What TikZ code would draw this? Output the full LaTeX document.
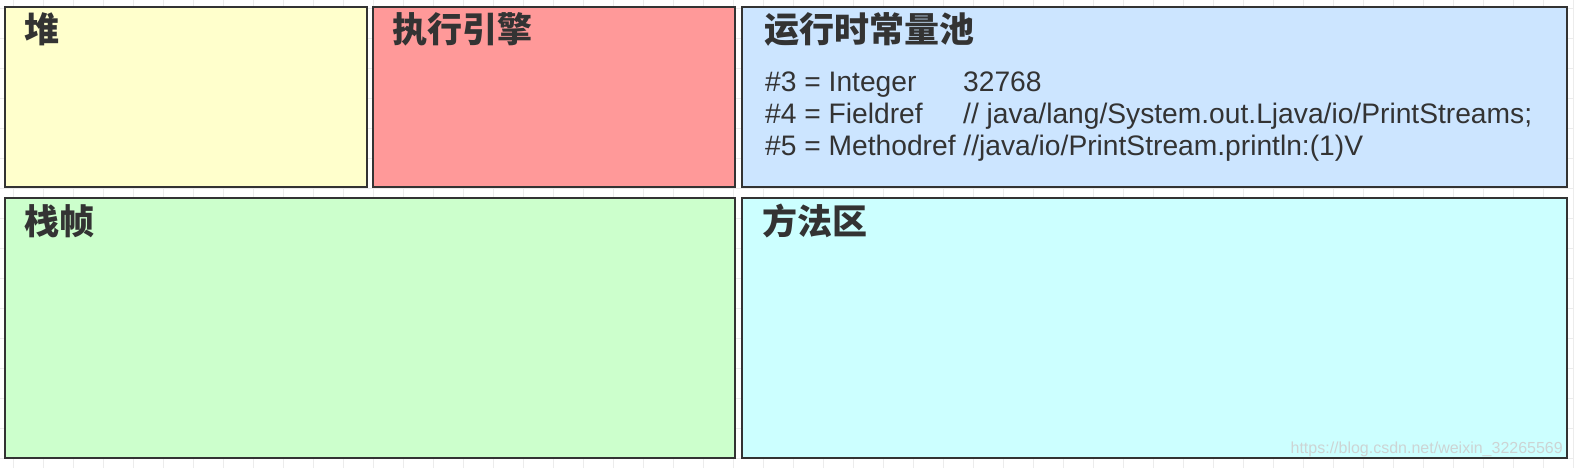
\documentclass[tikz,border=0pt]{standalone}
\usepackage{fontspec}
\setmainfont{Liberation Sans}
\newfontfamily\cjkfont{Noto Sans CJK SC}
\usetikzlibrary{positioning}
\definecolor{heapyellow}{RGB}{255,255,204}
\definecolor{enginered}{RGB}{255,153,153}
\definecolor{poolblue}{RGB}{204,229,255}
\definecolor{framegreen}{RGB}{204,255,204}
\definecolor{methodcyan}{RGB}{204,255,255}
\definecolor{inkgray}{RGB}{51,51,51}
\definecolor{gridgray}{RGB}{236,236,236}
\definecolor{markgray}{RGB}{205,212,212}

\begin{document}
\begin{tikzpicture}[
      x=1pt, y=-1pt,
      area/.style={draw=inkgray, line width=2pt, inner sep=0pt, outer sep=0pt},
      areatitle/.style={anchor=base west, inner sep=0pt, text=inkgray, font=\cjkfont\bfseries\fontsize{35}{40}\selectfont},
      pooltext/.style={anchor=base west, inner sep=0pt, align=left, text=inkgray, font=\fontsize{28.2}{32}\selectfont},
      gridline/.style={draw=gridgray, line width=1.5pt}
    ]
      \useasboundingbox (0,0) rectangle (1574,468);
      \fill[white] (0,0) rectangle (1574,468);

      % background grid
      \foreach \gx in {13.3,43.3,...,1574}
        \draw[gridline] (\gx,0) -- (\gx,468);
      \foreach \gy in {8.3,38.3,...,468}
        \draw[gridline] (0,\gy) -- (1574,\gy);

      % memory areas
      \node[area, fill=heapyellow, minimum width=362pt, minimum height=180pt] (heap) at (186,97) {};
      \node[area, fill=enginered, minimum width=362pt, minimum height=180pt] (engine) at (554,97) {};
      \node[area, fill=poolblue, minimum width=825pt, minimum height=180pt] (pool) at (1154.5,97) {};
      \node[area, fill=framegreen, minimum width=730pt, minimum height=260pt] (frame) at (370,328) {};
      \node[area, fill=methodcyan, minimum width=825pt, minimum height=260pt] (method) at (1154.5,328) {};

      \node[areatitle] (heaptitle) at (24,43) {堆};
      \node[areatitle] (enginetitle) at (392,43) {执行引擎};
      \node[areatitle] (pooltitle) at (764,43) {运行时常量池};
      \node[areatitle] (frametitle) at (24,234) {栈帧};
      \node[areatitle] (methodtitle) at (762,234) {方法区};

      % base of a multi-line node is its last line
      \node[pooltext] (poolentries) at (765,155.5) {
        \makebox[198pt][l]{\#3 = Integer}32768\\
        \makebox[198pt][l]{\#4 = Fieldref}// java/lang/System.out.Ljava/io/PrintStreams;\\
        \#5 = Methodref //java/io/PrintStream.println:(1)V
      };

      \node[anchor=base east, inner sep=0pt, text=markgray, font=\fontsize{16}{18}\selectfont] (watermark) at (1563,453) {https://blog.csdn.net/weixin\_32265569};
    \end{tikzpicture}
\end{document}
